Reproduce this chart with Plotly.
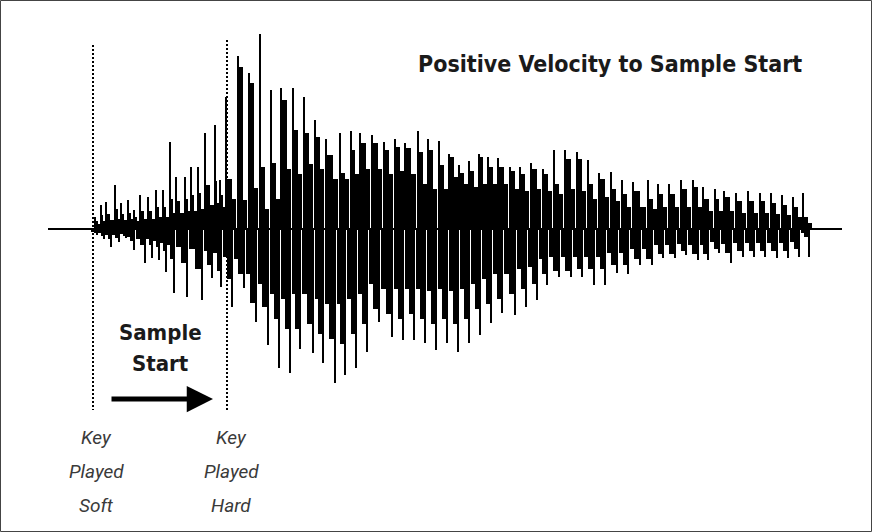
import numpy as np
import plotly.graph_objects as go

# ---- waveform values (time in display units, amplitude in display units) ----
pos_t = [95, 101, 106, 115, 121, 128, 134, 140, 148, 156, 163, 170, 176, 185, 191, 198, 205, 215, 220, 226,
         238, 249, 260, 271, 281, 293, 304, 315, 326, 340, 351, 360, 372, 384, 395, 405, 418, 428, 439, 449,
         459, 469, 479, 488, 498, 510, 520, 531, 543, 554, 565, 577, 588, 599, 611, 622, 633, 648, 658, 669,
         681, 693, 703, 715, 724, 736, 748, 760, 771, 782, 793, 803]
pos_peak = [12, 24, 27, 44, 26, 29, 19, 34, 32, 39, 39, 87, 52, 52, 62, 62, 96, 104, 49, 132,
            173, 156, 195, 139, 141, 141, 132, 109, 90, 96, 98, 96, 94, 87, 90, 86, 98, 90, 88, 75,
            64, 68, 75, 72, 71, 62, 62, 66, 60, 79, 79, 77, 69, 56, 57, 49, 47, 49, 45, 45,
            49, 49, 42, 40, 38, 36, 38, 36, 36, 34, 32, 36]
pos_body = [8, 14, 15, 20, 15, 16, 12, 18, 18, 22, 22, 30, 28, 30, 34, 36, 44, 48, 34, 50,
            162, 146, 62, 66, 129, 99, 96, 92, 74, 56, 79, 86, 86, 79, 82, 81, 77, 79, 64, 72,
            56, 58, 72, 62, 62, 58, 55, 60, 55, 45, 70, 70, 45, 50, 40, 35, 38, 30, 35, 35,
            40, 42, 30, 30, 32, 28, 28, 28, 26, 24, 22, 12]
pos_tail = [5, 8, 9, 10, 9, 10, 8, 10, 10, 12, 12, 16, 16, 18, 18, 20, 24, 26, 22, 30,
            29, 41, 20, 30, 60, 55, 65, 60, 50, 50, 55, 60, 60, 55, 58, 55, 45, 40, 40, 52,
            45, 42, 45, 45, 45, 40, 38, 40, 38, 35, 40, 38, 30, 32, 28, 22, 22, 20, 22, 22,
            22, 22, 18, 18, 18, 16, 16, 16, 15, 14, 12, 6]

neg_t = [97, 104, 111, 119, 126, 134, 145, 152, 159, 166, 174, 187, 202, 212, 221, 232, 244, 256, 268, 279,
         290, 300, 313, 323, 335, 345, 356, 367, 379, 392, 403, 414, 425, 436, 447, 458, 469, 480, 491, 502,
         515, 526, 537, 547, 559, 571, 582, 594, 605, 617, 628, 640, 652, 663, 675, 686, 698, 708, 719, 731,
         743, 754, 765, 777, 788, 799, 809]
neg_peak = [6, 10, 18, 13, 9, 21, 34, 29, 31, 43, 64, 68, 71, 49, 58, 78, 59, 93, 116, 139,
            144, 120, 124, 134, 154, 146, 139, 123, 93, 108, 111, 111, 114, 121, 114, 123, 114, 106, 94, 84,
            86, 78, 71, 56, 48, 48, 48, 56, 56, 44, 45, 36, 36, 29, 29, 26, 31, 31, 24, 34,
            28, 28, 28, 29, 29, 28, 28]
neg_body = [4, 7, 10, 9, 7, 12, 16, 16, 18, 22, 30, 34, 40, 36, 42, 50, 45, 74, 78, 90,
            100, 100, 95, 105, 110, 115, 105, 95, 80, 85, 90, 85, 90, 95, 90, 95, 90, 80, 75, 70,
            65, 60, 55, 45, 42, 42, 40, 40, 40, 36, 36, 30, 30, 25, 25, 22, 25, 25, 20, 24,
            22, 22, 22, 22, 22, 20, 8]
neg_tail = [3, 4, 6, 6, 5, 8, 10, 10, 12, 14, 16, 18, 20, 22, 24, 28,
            30, 45, 55, 65, 70, 65, 65, 70, 75, 75, 70, 65, 55, 60, 60, 60, 60, 62, 60, 62,
            60, 55, 50, 45, 45, 40, 38, 30, 28, 28, 28, 28, 28, 24, 24, 20, 20, 16, 16, 15,
            16, 16, 13, 15, 14, 14, 14, 14, 14, 13, 4]

title_text = "Positive Velocity to Sample Start"
arrow_label = ["Sample", "Start"]
soft_label = ["Key", "Played", "Soft"]
hard_label = ["Key", "Played", "Hard"]
soft_t = 93
hard_t = 227

# ---- geometry helpers (pulse widths from spacing of the pulses) ----
pt = np.array(pos_t, float)
pg = np.append(np.diff(pt), np.diff(pt)[-1])
nt = np.array(neg_t, float)
ng = np.insert(np.diff(nt), 0, np.diff(nt)[0])

BLACK = "#000000"
fig = go.Figure()

def add_bar(x, y, width, offset):
    fig.add_trace(go.Bar(x=list(x), y=list(y), width=list(width), offset=list(offset),
                         marker=dict(color=BLACK, line=dict(width=0)),
                         hoverinfo="skip", showlegend=False))

# positive pulses: spike at start, pillar, decaying tail
add_bar(pt, pos_tail, 0.45 * pg, 0.4 * pg)
add_bar(pt, pos_body, 0.5 * pg, np.full_like(pg, -0.5))
add_bar(pt, pos_peak, np.full_like(pg, 1.7), np.full_like(pg, -0.3))
# negative pulses: mirror
add_bar(nt, [-v for v in neg_tail], 0.45 * ng, -0.85 * ng)
add_bar(nt, [-v for v in neg_body], 0.5 * ng + 1.0, -0.5 * ng)
add_bar(nt, [-v for v in neg_peak], np.full_like(ng, 1.7), np.full_like(ng, -0.8))

shapes = [
    dict(type="line", x0=48, x1=842, y0=0, y1=0, line=dict(color=BLACK, width=2), layer="below"),
    dict(type="line", x0=soft_t, x1=soft_t, y0=184, y1=-181, line=dict(color=BLACK, width=2, dash="2px,2px")),
    dict(type="line", x0=hard_t, x1=hard_t, y0=189, y1=-181, line=dict(color=BLACK, width=2, dash="2px,2px")),
    dict(type="rect", x0=0.5, x1=871.5, y0=228.5, y1=-302.5, line=dict(color="#444", width=1)),
]

bold = dict(family="DejaVu Sans Condensed, Liberation Sans Narrow, sans-serif", size=23, color="#1a1a1a", weight="bold")
bold2 = dict(bold, size=22)
ital = dict(family="Roboto, Liberation Sans, sans-serif", size=19, color="#3a3a3a", style="italic")

ann = [dict(x=610, y=165, text=title_text, showarrow=False, font=bold, xanchor="center", yanchor="middle")]
for i, s in enumerate(arrow_label):
    ann.append(dict(x=160, y=-103 - 31 * i, text=s, showarrow=False, font=bold2, xanchor="center", yanchor="middle"))
for i, s in enumerate(soft_label):
    ann.append(dict(x=96, y=-208 - 34 * i, text=s, showarrow=False, font=ital, xanchor="center", yanchor="middle"))
for i, s in enumerate(hard_label):
    ann.append(dict(x=231, y=-208 - 34 * i, text=s, showarrow=False, font=ital, xanchor="center", yanchor="middle"))
ann.append(dict(x=213, y=-170, ax=110, ay=-170, axref="x", ayref="y", xref="x", yref="y", text="",
                showarrow=True, arrowhead=2, arrowsize=1.05, arrowwidth=5, arrowcolor=BLACK, standoff=0))

fig.update_layout(
    width=872, height=532, margin=dict(l=0, r=0, t=0, b=0),
    paper_bgcolor="white", plot_bgcolor="white",
    barmode="overlay", bargap=0,
    xaxis=dict(range=[0, 872], visible=False, fixedrange=True),
    yaxis=dict(range=[-303, 229], visible=False, fixedrange=True),
    shapes=shapes, annotations=ann,
)

fig.write_html("out.html", config={"displayModeBar": False},
               post_script="document.body.style.margin='0';document.body.style.overflow='hidden';")
